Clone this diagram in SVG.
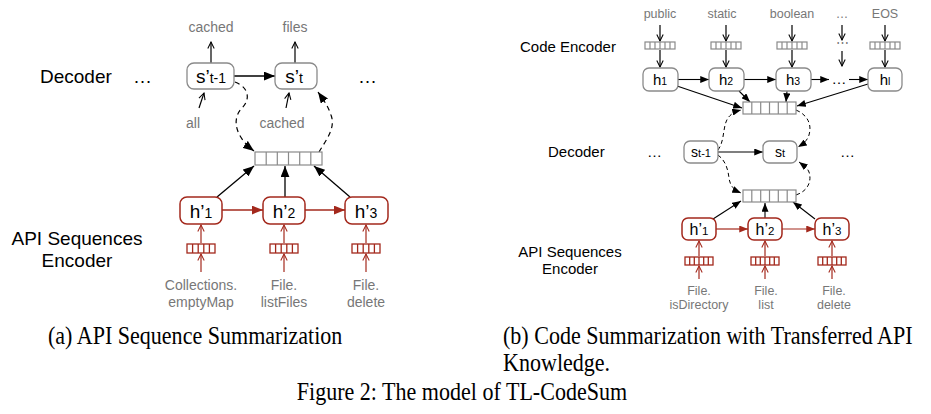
<svg xmlns="http://www.w3.org/2000/svg" width="931" height="414" viewBox="0 0 931 414">
<style>
.lbl{font-family:"Liberation Sans",Arial,sans-serif;fill:#000}
.g{font-family:"Liberation Sans",Arial,sans-serif;fill:#777;text-anchor:middle}
.cap{font-family:"Liberation Serif","Times New Roman",serif;font-size:24.5px;fill:#000}
.box{fill:#fff;stroke:#8a8a8a;stroke-width:1.3}
.rbox{fill:#fff;stroke:#a3281c;stroke-width:1.5}
.vec{fill:#fff;stroke:#8a8a8a;stroke-width:1.2}
.rvec{fill:#fff;stroke:#a3281c;stroke-width:1.3}
.ink{font-family:"Liberation Sans",Arial,sans-serif;fill:#000;text-anchor:middle}
.kf{stroke:#000;stroke-width:1.3;fill:none;marker-end:url(#fb)}
.ko{stroke:#000;stroke-width:1.2;fill:none;marker-end:url(#ob)}
.rf{stroke:#a3281c;stroke-width:1.4;fill:none;marker-end:url(#fr)}
.ro{stroke:#a3281c;stroke-width:1.2;fill:none;marker-end:url(#or)}
.d{stroke:#000;stroke-width:1.2;fill:none;stroke-dasharray:5 4;marker-end:url(#fb)}
.ks{stroke:#000;stroke-width:1.1;fill:none;marker-end:url(#fbs)}
.ds{stroke:#000;stroke-width:1;fill:none;stroke-dasharray:4 3;marker-end:url(#fbs)}
.rfs{stroke:#a3281c;stroke-width:1.2;fill:none;marker-end:url(#frs)}
</style>
<defs>
<marker id="fb" viewBox="0 0 10 8" refX="10" refY="4" markerWidth="11" markerHeight="9" orient="auto" markerUnits="userSpaceOnUse"><path d="M0,0 L10,4 L0,8 z" fill="#000"/></marker>
<marker id="fbs" viewBox="0 0 10 8" refX="10" refY="4" markerWidth="9" markerHeight="7" orient="auto" markerUnits="userSpaceOnUse"><path d="M0,0 L10,4 L0,8 z" fill="#000"/></marker>
<marker id="fr" viewBox="0 0 10 8" refX="10" refY="4" markerWidth="11" markerHeight="9" orient="auto" markerUnits="userSpaceOnUse"><path d="M0,0 L10,4 L0,8 z" fill="#a3281c"/></marker>
<marker id="frs" viewBox="0 0 10 8" refX="10" refY="4" markerWidth="9" markerHeight="7" orient="auto" markerUnits="userSpaceOnUse"><path d="M0,0 L10,4 L0,8 z" fill="#a3281c"/></marker>
<marker id="ob" viewBox="0 0 10 10" refX="9" refY="5" markerWidth="8" markerHeight="8" orient="auto" markerUnits="userSpaceOnUse"><path d="M1,1 L9,5 L1,9" fill="none" stroke="#000" stroke-width="1.3"/></marker>
<marker id="or" viewBox="0 0 10 10" refX="9" refY="5" markerWidth="8" markerHeight="8" orient="auto" markerUnits="userSpaceOnUse"><path d="M1,1 L9,5 L1,9" fill="none" stroke="#a3281c" stroke-width="1.3"/></marker>
</defs>

<!-- ===== Panel (a) ===== -->
<g id="a-labels">
<text class="lbl" x="40" y="83" font-size="19">Decoder</text>
<text class="lbl" x="133" y="83" font-size="19">…</text>
<text class="lbl" x="358" y="83" font-size="19">…</text>
<text class="lbl" x="77" y="245" font-size="19" text-anchor="middle">API Sequences</text>
<text class="lbl" x="77" y="267" font-size="19" text-anchor="middle">Encoder</text>
<text class="g" x="211" y="32" font-size="14">cached</text>
<text class="g" x="295" y="32" font-size="14">files</text>
<text class="g" x="193" y="128" font-size="14">all</text>
<text class="g" x="282" y="128" font-size="14">cached</text>
<text class="g" x="201" y="290" font-size="14">Collections.</text>
<text class="g" x="201" y="307" font-size="14">emptyMap</text>
<text class="g" x="284" y="290" font-size="14">File.</text>
<text class="g" x="284" y="307" font-size="14">listFiles</text>
<text class="g" x="366" y="290" font-size="14">File.</text>
<text class="g" x="366" y="307" font-size="14">delete</text>
</g>

<g id="a-connectors">
<path class="ko" d="M211,63 L211,42"/>
<path class="ko" d="M295,63 L295,42"/>
<path class="ko" d="M199,108 L204,93"/>
<path class="ko" d="M286,108 L289,93"/>
<path class="kf" d="M234,76 L275,76"/>
<path class="d" d="M235,82 C250,88 250,100 242,108 C232,118 234,136 254,151"/>
<path class="d" d="M319,152 C326,140 336,128 331,115 C328,106 323,99 318,92"/>
<path class="kf" d="M217,197 L254,166"/>
<path class="kf" d="M285,197 L285,166"/>
<path class="kf" d="M350,197 L314,166"/>
<path class="rf" d="M222,210 L263,210"/>
<path class="rf" d="M305,210 L345,210"/>
<path class="ro" d="M201,243 L201,225"/>
<path class="ro" d="M201,272 L201,254"/>
<path class="ro" d="M284,243 L284,225"/>
<path class="ro" d="M284,272 L284,254"/>
<path class="ro" d="M366,243 L366,225"/>
<path class="ro" d="M366,272 L366,254"/>
</g>

<g id="a-s1">
<rect class="box" x="187" y="63" width="47" height="26" rx="7"/>
<text class="ink" x="211" y="83" font-size="19">s’<tspan font-size="14">t-1</tspan></text>
</g>
<g id="a-s2">
<rect class="box" x="275" y="63" width="42" height="26" rx="7"/>
<text class="ink" x="294" y="83" font-size="19">s’<tspan font-size="14">t</tspan></text>
</g>
<g id="a-att">
<rect class="vec" x="255" y="152" width="67" height="13"/>
<path class="vec" d="M266.2,152 V165 M277.3,152 V165 M288.5,152 V165 M299.7,152 V165 M310.8,152 V165"/>
</g>
<g id="a-h1">
<rect class="rbox" x="180" y="197" width="42" height="27" rx="7"/>
<text class="ink" x="201" y="218" font-size="19">h’<tspan font-size="14">1</tspan></text>
</g>
<g id="a-h2">
<rect class="rbox" x="263" y="197" width="42" height="27" rx="7"/>
<text class="ink" x="284" y="218" font-size="19">h’<tspan font-size="14">2</tspan></text>
</g>
<g id="a-h3">
<rect class="rbox" x="345" y="197" width="43" height="27" rx="7"/>
<text class="ink" x="366" y="218" font-size="19">h’<tspan font-size="14">3</tspan></text>
</g>
<g id="a-e1">
<rect class="rvec" x="187" y="244" width="28" height="9"/>
<path class="rvec" d="M192.6,244 V253 M198.2,244 V253 M203.8,244 V253 M209.4,244 V253"/>
</g>
<g id="a-e2">
<rect class="rvec" x="270" y="244" width="28" height="9"/>
<path class="rvec" d="M275.6,244 V253 M281.2,244 V253 M286.8,244 V253 M292.4,244 V253"/>
</g>
<g id="a-e3">
<rect class="rvec" x="352" y="244" width="28" height="9"/>
<path class="rvec" d="M357.6,244 V253 M363.2,244 V253 M368.8,244 V253 M374.4,244 V253"/>
</g>

<!-- ===== Panel (b) ===== -->
<g id="b-labels">
<text class="lbl" x="520" y="52" font-size="15">Code Encoder</text>
<text class="lbl" x="548" y="157" font-size="15">Decoder</text>
<text class="lbl" x="647" y="157" font-size="15">…</text>
<text class="lbl" x="840" y="157" font-size="15">…</text>
<text class="lbl" x="570" y="257" font-size="15" text-anchor="middle">API Sequences</text>
<text class="lbl" x="570" y="274" font-size="15" text-anchor="middle">Encoder</text>
<text class="g" x="660" y="18" font-size="12.5">public</text>
<text class="g" x="722" y="18" font-size="12.5">static</text>
<text class="g" x="792" y="18" font-size="12.5">boolean</text>
<text class="g" x="842" y="18" font-size="12.5">…</text>
<text class="g" x="885" y="18" font-size="12.5">EOS</text>
<text class="g" x="842" y="47" font-size="12.5" fill="#555">⋯</text>
<text class="ink" x="839" y="84" font-size="15">…</text>
<text class="g" x="699" y="295" font-size="12.5">File.</text>
<text class="g" x="699" y="309" font-size="12.5">isDirectory</text>
<text class="g" x="766" y="295" font-size="12.5">File.</text>
<text class="g" x="766" y="309" font-size="12.5">list</text>
<text class="g" x="834" y="295" font-size="12.5">File.</text>
<text class="g" x="834" y="309" font-size="12.5">delete</text>
</g>

<g id="b-connectors">
<path class="ko" d="M660,25 L660,41"/>
<path class="ko" d="M660,50 L660,67"/>
<path class="ko" d="M726,25 L726,41"/>
<path class="ko" d="M726,50 L726,67"/>
<path class="ko" d="M792,25 L792,41"/>
<path class="ko" d="M792,50 L792,67"/>
<path class="ko" d="M842,25 L842,40"/>
<path class="ko" d="M842,51 L842,66"/>
<path class="ko" d="M885,25 L885,41"/>
<path class="ko" d="M885,50 L885,67"/>
<path class="ks" d="M678,79.5 L709,79.5"/>
<path class="ks" d="M744,79.5 L776,79.5"/>
<path class="ks" d="M811,79.5 L829,79.5"/>
<path class="ks" d="M849,79.5 L868,79.5"/>
<path class="ks" d="M677,86 L742,108"/>
<path class="ks" d="M739,91 L750,102"/>
<path class="ks" d="M787,91 L786,102"/>
<path class="ks" d="M868,84 L797,106"/>
<path class="ks" d="M718,152 L763,152"/>
<path class="ds" d="M718,150 C724,142 723,130 726,122 C728,116 733,112 741,110"/>
<path class="ds" d="M796,110 C808,115 812,125 809,135 C807,141 803,144 798,147"/>
<path class="ds" d="M718,155 C726,161 728,170 729,178 C730,186 734,190 741,193"/>
<path class="ds" d="M796,195 C808,191 812,181 809,172 C807,167 803,165 799,162"/>
<path class="ks" d="M713,219 L741,201"/>
<path class="ks" d="M765,218 L765,203"/>
<path class="ks" d="M815,219 L793,202"/>
<path class="rfs" d="M716,229 L748,229"/>
<path class="rfs" d="M782,229 L815,229"/>
<path class="ro" d="M699,256 L699,241"/>
<path class="ro" d="M699,279 L699,266"/>
<path class="ro" d="M765,256 L765,241"/>
<path class="ro" d="M765,279 L765,266"/>
<path class="ro" d="M832,256 L832,241"/>
<path class="ro" d="M832,279 L832,266"/>
</g>

<g id="b-x1">
<rect class="vec" x="645" y="42" width="30" height="7"/>
<path class="vec" d="M650,42 V49 M655,42 V49 M660,42 V49 M665,42 V49 M670,42 V49"/>
</g>
<g id="b-x2">
<rect class="vec" x="711" y="42" width="30" height="7"/>
<path class="vec" d="M716,42 V49 M721,42 V49 M726,42 V49 M731,42 V49 M736,42 V49"/>
</g>
<g id="b-x3">
<rect class="vec" x="777" y="42" width="30" height="7"/>
<path class="vec" d="M782,42 V49 M787,42 V49 M792,42 V49 M797,42 V49 M802,42 V49"/>
</g>
<g id="b-xl">
<rect class="vec" x="870" y="42" width="30" height="7"/>
<path class="vec" d="M875,42 V49 M880,42 V49 M885,42 V49 M890,42 V49 M895,42 V49"/>
</g>
<g id="b-h1">
<rect class="box" x="643" y="68" width="35" height="23" rx="6"/>
<text class="ink" x="660" y="85" font-size="15">h<tspan font-size="10.5">1</tspan></text>
</g>
<g id="b-h2">
<rect class="box" x="709" y="68" width="35" height="23" rx="6"/>
<text class="ink" x="726" y="85" font-size="15">h<tspan font-size="10.5">2</tspan></text>
</g>
<g id="b-h3">
<rect class="box" x="776" y="68" width="35" height="23" rx="6"/>
<text class="ink" x="793" y="85" font-size="15">h<tspan font-size="10.5">3</tspan></text>
</g>
<g id="b-hl">
<rect class="box" x="868" y="68" width="34" height="23" rx="6"/>
<text class="ink" x="885" y="85" font-size="15">h<tspan font-size="10.5">l</tspan></text>
</g>
<g id="b-att1">
<rect class="vec" x="743" y="102" width="53" height="12"/>
<path class="vec" d="M751.8,102 V114 M760.7,102 V114 M769.5,102 V114 M778.3,102 V114 M787.2,102 V114"/>
</g>
<g id="b-s1">
<rect class="box" x="684" y="141" width="34" height="22" rx="6"/>
<text class="ink" x="701" y="157" font-size="14">s<tspan font-size="11">t-1</tspan></text>
</g>
<g id="b-s2">
<rect class="box" x="763" y="141" width="34" height="22" rx="6"/>
<text class="ink" x="780" y="157" font-size="14">s<tspan font-size="11">t</tspan></text>
</g>
<g id="b-att2">
<rect class="vec" x="743" y="190" width="53" height="12"/>
<path class="vec" d="M751.8,190 V202 M760.7,190 V202 M769.5,190 V202 M778.3,190 V202 M787.2,190 V202"/>
</g>
<g id="b-hp1">
<rect class="rbox" x="682" y="218" width="34" height="22" rx="6"/>
<text class="ink" x="699" y="235" font-size="16">h’<tspan font-size="11.5">1</tspan></text>
</g>
<g id="b-hp2">
<rect class="rbox" x="748" y="218" width="34" height="22" rx="6"/>
<text class="ink" x="765" y="235" font-size="16">h’<tspan font-size="11.5">2</tspan></text>
</g>
<g id="b-hp3">
<rect class="rbox" x="815" y="218" width="34" height="22" rx="6"/>
<text class="ink" x="832" y="235" font-size="16">h’<tspan font-size="11.5">3</tspan></text>
</g>
<g id="b-e1">
<rect class="rvec" x="685" y="257" width="28" height="8"/>
<path class="rvec" d="M689.7,257 V265 M694.3,257 V265 M699,257 V265 M703.7,257 V265 M708.3,257 V265"/>
</g>
<g id="b-e2">
<rect class="rvec" x="751" y="257" width="28" height="8"/>
<path class="rvec" d="M755.7,257 V265 M760.3,257 V265 M765,257 V265 M769.7,257 V265 M774.3,257 V265"/>
</g>
<g id="b-e3">
<rect class="rvec" x="818" y="257" width="28" height="8"/>
<path class="rvec" d="M822.7,257 V265 M827.3,257 V265 M832,257 V265 M836.7,257 V265 M841.3,257 V265"/>
</g>

<g id="captions" transform="scale(0.9,1)">
<text class="cap" x="53.3" y="344">(a) API Sequence Summarization</text>
<text class="cap" x="558.9" y="344">(b) Code Summarization with Transferred API</text>
<text class="cap" x="558.9" y="371">Knowledge.</text>
<text class="cap" x="513.3" y="400" text-anchor="middle">Figure 2: The model of TL-CodeSum</text>
</g>
</svg>
